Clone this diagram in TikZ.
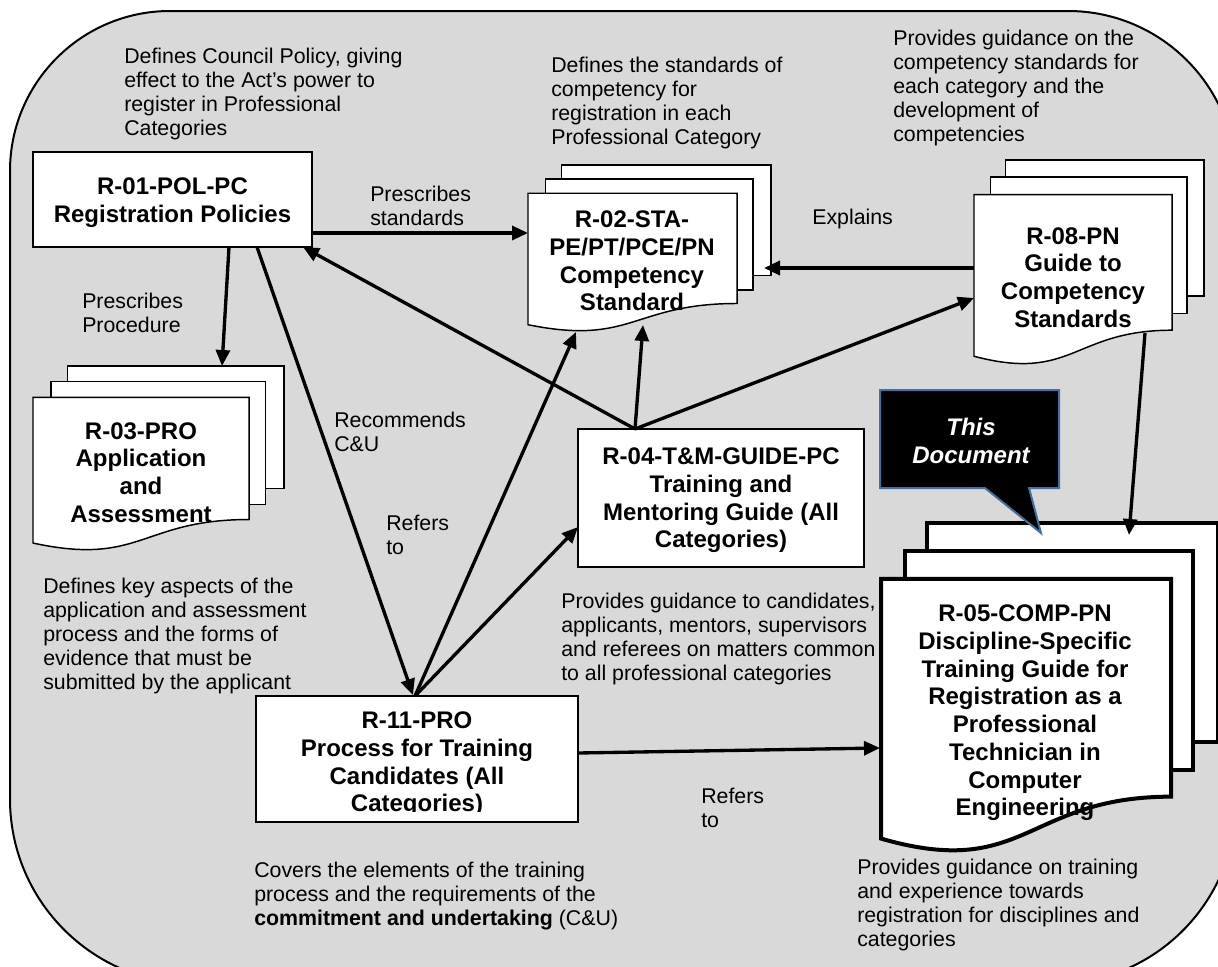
\documentclass[tikz,border=0pt]{standalone}
\usepackage{fontspec}
\setmainfont{Liberation Sans}
\usetikzlibrary{arrows.meta}
\definecolor{bggray}{HTML}{D9D9D9}
\definecolor{callblue}{HTML}{41719C}
\newcommand\multidoc[5]{%
  \begin{scope}[shift={(#1,#2)}, line width=#5]
    \path[sheet] (0.1376*#3,0) rectangle (#3,0.6663*#4);
    \path[sheet] (0.0709*#3,0.0840*#4) rectangle (0.9259*#3,0.7524*#4);
    \path[sheet] (0,0.1701*#4) -- (0.8609*#3,0.1701*#4) -- (0.8609*#3,0.8343*#4)
      .. controls (0.4305*#3,0.8343*#4) and (0.4305*#3,1.0899*#4) .. (0,0.9621*#4) -- cycle;
  \end{scope}}
\begin{document}
\begin{tikzpicture}[x=0.75pt,y=-0.75pt,
  sheet/.style={draw=black, fill=white, line join=miter},
  box/.style={draw=black, fill=white, line width=1.1pt, inner sep=0pt},
  norm/.style={font=\fontsize{16}{18}\selectfont, align=left, anchor=west, inner sep=0pt},
  doclbl/.style={font=\fontsize{18}{20.8}\selectfont\bfseries, align=center, inner sep=0pt},
  conn/.style={line width=2.5pt, -{Triangle[length=12pt,width=10.5pt]}}
]
\useasboundingbox (0,0) rectangle (1218,967);
\clip (0,0) rectangle (1218,967);

% background rounded panel
\path[draw=black, fill=bggray, line width=1.5pt]
  (10,171) arc[start angle=180, end angle=270, radius=160]
  -- (1068,11) arc[start angle=270, end angle=360, radius=168]
  -- (1236,802) arc[start angle=0, end angle=90, radius=182]
  -- (195,984) arc[start angle=90, end angle=180, radius=185] -- cycle;

% boxes
\node[box, minimum width=209.25pt, minimum height=71.25pt] (r01) at (172.5,199.5) {};
\node[box, minimum width=214.5pt, minimum height=103.5pt] (r04) at (721,498) {};
\node[box, minimum width=241.5pt, minimum height=94.5pt] (r11) at (417,759) {};

% document stacks
\multidoc{528}{165}{243}{166}{1.1pt}
\multidoc{33}{366}{251}{184}{1.1pt}
\multidoc{974}{160}{230}{204}{1.1pt}
\multidoc{881}{523}{337}{328}{3pt}

% callout
\path[draw=callblue, fill=black, line width=1.5pt, line join=miter]
  (880,390) -- (1059,390) -- (1059,488) -- (1029,488) -- (1041,533) -- (985,488) -- (880,488) -- cycle;
\node[doclbl, text=white, font=\fontsize{18}{20.8}\selectfont\bfseries\itshape] (thisdoc) at (971,441) {This\\Document};

% box labels
\node[doclbl] (l01) at (172.5,203) {R-01-POL-PC\\Registration Policies};
\node[doclbl] (l02) at (632,261) {R-02-STA-\\PE/PT/PCE/PN\\Competency\\Standard};
\node[doclbl] (l03) at (141,472.5) {R-03-PRO\\Application\\and\\Assessment};
\node[doclbl] (l04) at (721,500.5) {R-04-T\&M-GUIDE-PC\\Training and\\Mentoring Guide (All\\Categories)};
\node[doclbl] (l08) at (1073,277.5) {R-08-PN\\Guide to\\Competency\\Standards};
\node[doclbl] (l05) at (1025,713) {R-05-COMP-PN\\Discipline-Specific\\Training Guide for\\Registration as a\\Professional\\Technician in\\Computer\\Engineering};
\begin{scope}
  \clip (256,696) rectangle (578,811);
  \node[doclbl] (l11) at (417,764.5) {R-11-PRO\\Process for Training\\Candidates (All\\Categories)};
\end{scope}

% descriptive texts
\node[norm] (t1) at (124,93.5) {Defines Council Policy, giving\\effect to the Act’s power to\\register in Professional\\Categories};
\node[norm] (t2) at (370,206) {Prescribes\\standards};
\node[norm] (t3) at (551,102.5) {Defines the standards of\\competency for\\registration in each\\Professional Category};
\node[norm] (t4) at (893,87.5) {Provides guidance on the\\competency standards for\\each category and the\\development of\\competencies};
\node[norm] (t5) at (812,219) {Explains};
\node[norm] (t6) at (82,312.5) {Prescribes\\Procedure};
\node[norm] (t7) at (334,431.5) {Recommends\\C\&U};
\node[norm] (t8) at (386,534.5) {Refers\\to};
\node[norm] (t9) at (43,635.5) {Defines key aspects of the\\application and assessment\\process and the forms of\\evidence that must be\\submitted by the applicant};
\node[norm] (t10) at (561,638.5) {Provides guidance to candidates,\\applicants, mentors, supervisors\\and referees on matters common\\to all professional categories};
\node[norm] (t11) at (254,896.5) {Covers the elements of the training\\process and the requirements of the\\\textbf{commitment and undertaking} (C\&U)};
\node[norm] (t12) at (701,807.5) {Refers\\to};
\node[norm] (t13) at (857,904.5) {Provides guidance on training\\and experience towards\\registration for disciplines and\\categories};

% connector end points
\coordinate (r01e) at (312,233);
\coordinate (r02w) at (528,233);
\coordinate (r08w1) at (974,268);
\coordinate (r02e) at (764,268);
\coordinate (r01s1) at (229,247);
\coordinate (r03n) at (222,366);
\coordinate (r01s2) at (257,247);
\coordinate (r11n1) at (413,695);
\coordinate (r11n) at (415,696);
\coordinate (r02s1) at (576,332);
\coordinate (r04w) at (578,527);
\coordinate (r04n) at (635,429);
\coordinate (r02s2) at (643,325);
\coordinate (r01se) at (303,247);
\coordinate (r08w2) at (974,298);
\coordinate (r08s) at (1145,333);
\coordinate (r05n) at (1129,535);
\coordinate (r11e) at (578,753);
\coordinate (r05w) at (880,748);

% connectors
\draw[conn] (r01e) -- (r02w);
\draw[conn] (r08w1) -- (r02e);
\draw[conn] (r01s1) -- (r03n);
\draw[conn] (r01s2) -- (r11n1);
\draw[conn] (r11n) -- (r02s1);
\draw[conn] (r11n) -- (r04w);
\draw[conn] (r04n) -- (r02s2);
\draw[conn] (r04n) -- (r01se);
\draw[conn] (r04n) -- (r08w2);
\draw[conn] (r08s) -- (r05n);
\draw[conn] (r11e) -- (r05w);
\end{tikzpicture}
\end{document}
